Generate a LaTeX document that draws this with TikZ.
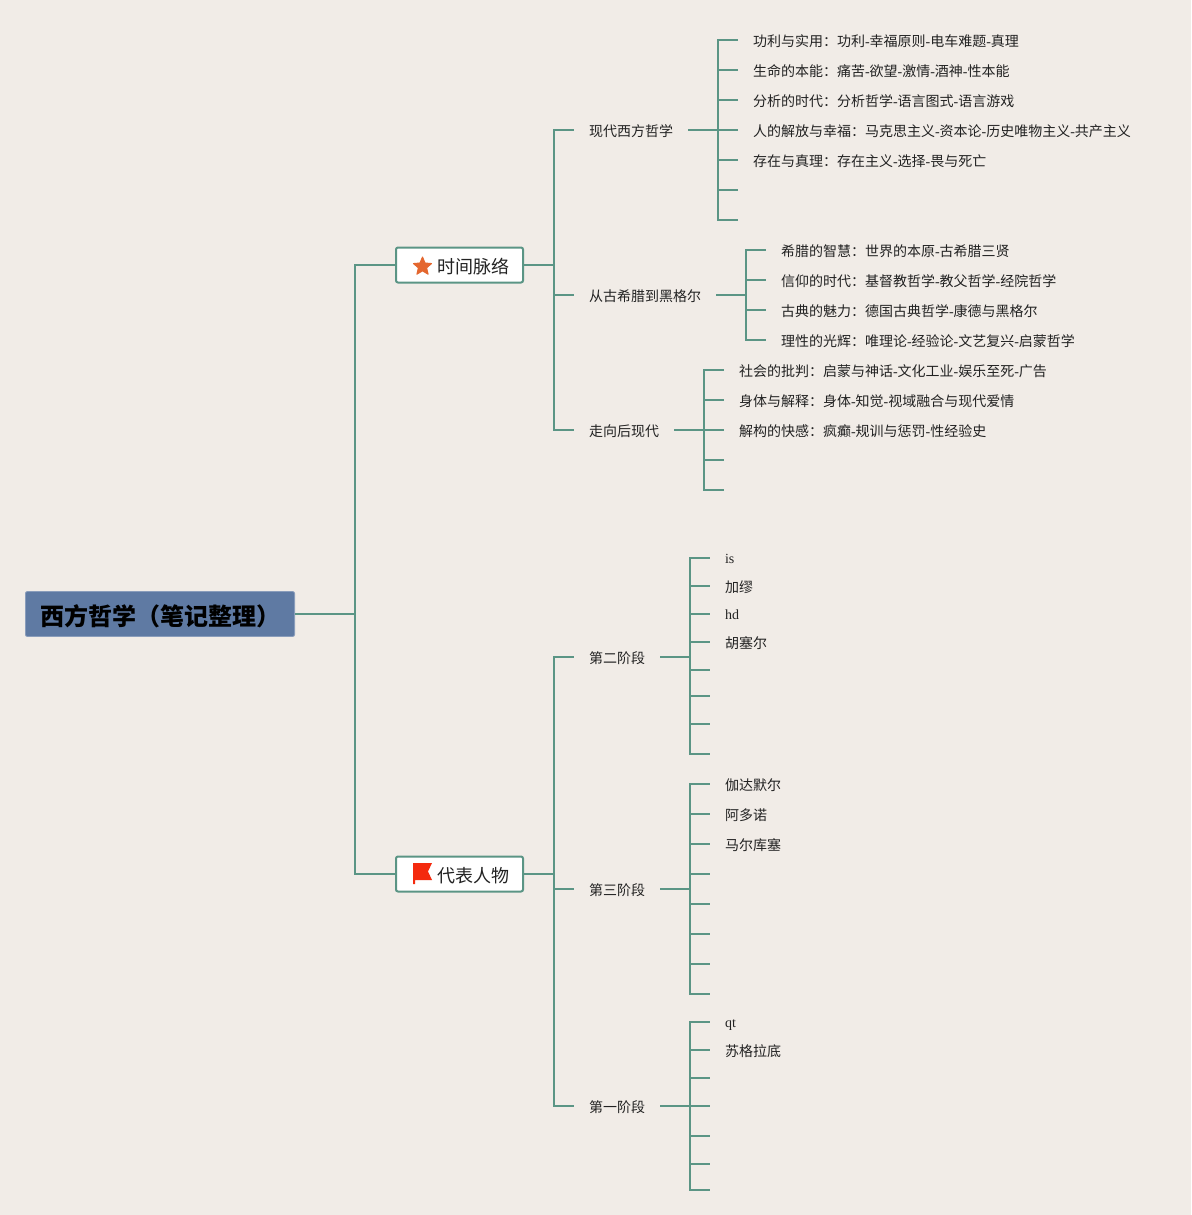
\documentclass[tikz,border=0pt]{standalone}
\usepackage{fontspec}
\usepackage{xcolor}
\setmainfont{Noto Sans CJK SC}
\newfontfamily\latinfont{Liberation Serif}
\newcommand{\hy}{{\latinfont-}}
\definecolor{paper}{HTML}{F1ECE7}
\definecolor{branch}{HTML}{5B9585}
\definecolor{rootfill}{HTML}{5F7AA3}
\definecolor{rootedge}{HTML}{8A9DBB}
\definecolor{inktext}{HTML}{222222}
\definecolor{staricon}{HTML}{E4672F}
\definecolor{flagicon}{HTML}{F42A0E}
\usetikzlibrary{
    positioning,
    shapes.geometric
}

\begin{document}
\begin{tikzpicture}[
        x=1pt,
        y=-1pt,
        root/.style={
            rectangle,
            rounded corners=2pt,
            draw=rootedge,
            fill=rootfill,
            line width=0.8pt,
            anchor=west,
            text=black,
            inner xsep=14.6pt,
            inner ysep=0pt,
            text height=24pt,
            text depth=1.8pt,
            minimum height=45pt,
            font=\fontsize{24}{28}\selectfont\bfseries
        },
        topic/.style={
            rectangle,
            rounded corners=2pt,
            draw=branch,
            fill=white,
            line width=2pt,
            anchor=west,
            text=inktext,
            inner xsep=14pt,
            inner ysep=0pt,
            text height=18pt,
            text depth=1.4pt,
            minimum height=35pt,
            font=\fontsize{18}{22}\selectfont
        },
        stage/.style={
            anchor=west,
            text=inktext,
            inner xsep=15pt,
            inner ysep=0pt,
            outer sep=0pt,
            text height=13.6pt,
            text depth=1pt,
            font=\fontsize{14}{16}\selectfont
        },
        leaf/.style={
            stage
        },
        latinleaf/.style={
            stage,
            text height=11.6pt,
            font=\fontsize{14}{16}\latinfont
        },
        link/.style={
            draw=branch,
            line width=2pt
        }
    ]

    \useasboundingbox (0,0) rectangle (1191,1215);
    \fill[paper] (0,0) rectangle (1191,1215);

    \node[root] (philosophy) at (25,614) {西方哲学（笔记整理）};
    \node[topic] (timeline) at (395,265) {\hspace*{27pt}时间脉络};
    \node[topic] (people) at (395,874) {\hspace*{27pt}代表人物};

    \node[star, star points=5, star point ratio=2.2, fill=staricon, draw=staricon,
        line join=round, line width=1pt, inner sep=0pt, minimum size=19pt] (staricon) at (422.5,266.5) {};
    \fill[flagicon] (413,863) -- (432,863) -- (428,871.5) -- (432,880) -- (415,880)
        -- (415,884) -- (413,884) -- cycle;

    % stages
    \node[stage] (modern) at (574,130) {现代西方哲学};
    \node[stage] (greek) at (574,295) {从古希腊到黑格尔};
    \node[stage] (postmodern) at (574,430) {走向后现代};
    \node[stage] (phase2) at (574,657) {第二阶段};
    \node[stage] (phase3) at (574,889) {第三阶段};
    \node[stage] (phase1) at (574,1106) {第一阶段};

    % leaves
    \node[leaf] (modernA) at (738,40) {功利与实用：功利\hy 幸福原则\hy 电车难题\hy 真理};
    \node[leaf] (modernB) at (738,70) {生命的本能：痛苦\hy 欲望\hy 激情\hy 酒神\hy 性本能};
    \node[leaf] (modernC) at (738,100) {分析的时代：分析哲学\hy 语言图式\hy 语言游戏};
    \node[leaf] (modernD) at (738,130) {人的解放与幸福：马克思主义\hy 资本论\hy 历史唯物主义\hy 共产主义};
    \node[leaf] (modernE) at (738,160) {存在与真理：存在主义\hy 选择\hy 畏与死亡};
    \coordinate (modernF) at (738,190);
    \coordinate (modernG) at (738,220);

    \node[leaf] (greekA) at (766,250) {希腊的智慧：世界的本原\hy 古希腊三贤};
    \node[leaf] (greekB) at (766,280) {信仰的时代：基督教哲学\hy 教父哲学\hy 经院哲学};
    \node[leaf] (greekC) at (766,310) {古典的魅力：德国古典哲学\hy 康德与黑格尔};
    \node[leaf] (greekD) at (766,340) {理性的光辉：唯理论\hy 经验论\hy 文艺复兴\hy 启蒙哲学};

    \node[leaf] (postA) at (724,370) {社会的批判：启蒙与神话\hy 文化工业\hy 娱乐至死\hy 广告};
    \node[leaf] (postB) at (724,400) {身体与解释：身体\hy 知觉\hy 视域融合与现代爱情};
    \node[leaf] (postC) at (724,430) {解构的快感：疯癫\hy 规训与惩罚\hy 性经验史};
    \coordinate (postD) at (724,460);
    \coordinate (postE) at (724,490);

    \node[latinleaf] (secondA) at (710,558) {is};
    \node[leaf] (secondB) at (710,586) {加缪};
    \node[latinleaf] (secondC) at (710,614) {hd};
    \node[leaf] (secondD) at (710,642) {胡塞尔};
    \coordinate (secondE) at (710,670);
    \coordinate (secondF) at (710,696);
    \coordinate (secondG) at (710,724);
    \coordinate (secondH) at (710,754);

    \node[leaf] (thirdA) at (710,784) {伽达默尔};
    \node[leaf] (thirdB) at (710,814) {阿多诺};
    \node[leaf] (thirdC) at (710,844) {马尔库塞};
    \coordinate (thirdD) at (710,874);
    \coordinate (thirdE) at (710,904);
    \coordinate (thirdF) at (710,934);
    \coordinate (thirdG) at (710,964);
    \coordinate (thirdH) at (710,994);

    \node[latinleaf] (firstA) at (710,1022) {qt};
    \node[leaf] (firstB) at (710,1050) {苏格拉底};
    \coordinate (firstC) at (710,1078);
    \coordinate (firstD) at (710,1106);
    \coordinate (firstE) at (710,1136);
    \coordinate (firstF) at (710,1164);
    \coordinate (firstG) at (710,1190);

    % bus points
    \coordinate (rootbus) at (355,614);
    \coordinate (timebus) at (554,265);
    \coordinate (peoplebus) at (554,874);
    \coordinate (modernbus) at (718,130);
    \coordinate (greekbus) at (746,295);
    \coordinate (postbus) at (704,430);
    \coordinate (secondbus) at (690,657);
    \coordinate (thirdbus) at (690,889);
    \coordinate (firstbus) at (690,1106);

    \draw[link] (philosophy.east) -- (rootbus);
    \draw[link] (rootbus) |- (timeline.west);
    \draw[link] (rootbus) |- (people.west);

    \draw[link] (timeline.east) -- (timebus);
    \draw[link] (timebus) |- (modern.west);
    \draw[link] (timebus) |- (greek.west);
    \draw[link] (timebus) |- (postmodern.west);

    \draw[link] (people.east) -- (peoplebus);
    \draw[link] (peoplebus) |- (phase2.west);
    \draw[link] (peoplebus) |- (phase3.west);
    \draw[link] (peoplebus) |- (phase1.west);

    \draw[link] (modern.east) -- (modernbus);
    \draw[link] (modernbus) |- (modernA.west);
    \draw[link] (modernbus) |- (modernB.west);
    \draw[link] (modernbus) |- (modernC.west);
    \draw[link] (modernbus) |- (modernD.west);
    \draw[link] (modernbus) |- (modernE.west);
    \draw[link] (modernbus) |- (modernF);
    \draw[link] (modernbus) |- (modernG);

    \draw[link] (greek.east) -- (greekbus);
    \draw[link] (greekbus) |- (greekA.west);
    \draw[link] (greekbus) |- (greekB.west);
    \draw[link] (greekbus) |- (greekC.west);
    \draw[link] (greekbus) |- (greekD.west);

    \draw[link] (postmodern.east) -- (postbus);
    \draw[link] (postbus) |- (postA.west);
    \draw[link] (postbus) |- (postB.west);
    \draw[link] (postbus) |- (postC.west);
    \draw[link] (postbus) |- (postD);
    \draw[link] (postbus) |- (postE);

    \draw[link] (phase2.east) -- (secondbus);
    \draw[link] (secondbus) |- (secondA.west);
    \draw[link] (secondbus) |- (secondB.west);
    \draw[link] (secondbus) |- (secondC.west);
    \draw[link] (secondbus) |- (secondD.west);
    \draw[link] (secondbus) |- (secondE);
    \draw[link] (secondbus) |- (secondF);
    \draw[link] (secondbus) |- (secondG);
    \draw[link] (secondbus) |- (secondH);

    \draw[link] (phase3.east) -- (thirdbus);
    \draw[link] (thirdbus) |- (thirdA.west);
    \draw[link] (thirdbus) |- (thirdB.west);
    \draw[link] (thirdbus) |- (thirdC.west);
    \draw[link] (thirdbus) |- (thirdD);
    \draw[link] (thirdbus) |- (thirdE);
    \draw[link] (thirdbus) |- (thirdF);
    \draw[link] (thirdbus) |- (thirdG);
    \draw[link] (thirdbus) |- (thirdH);

    \draw[link] (phase1.east) -- (firstbus);
    \draw[link] (firstbus) |- (firstA.west);
    \draw[link] (firstbus) |- (firstB.west);
    \draw[link] (firstbus) |- (firstC);
    \draw[link] (firstbus) |- (firstD);
    \draw[link] (firstbus) |- (firstE);
    \draw[link] (firstbus) |- (firstF);
    \draw[link] (firstbus) |- (firstG);

\end{tikzpicture}
\end{document}
